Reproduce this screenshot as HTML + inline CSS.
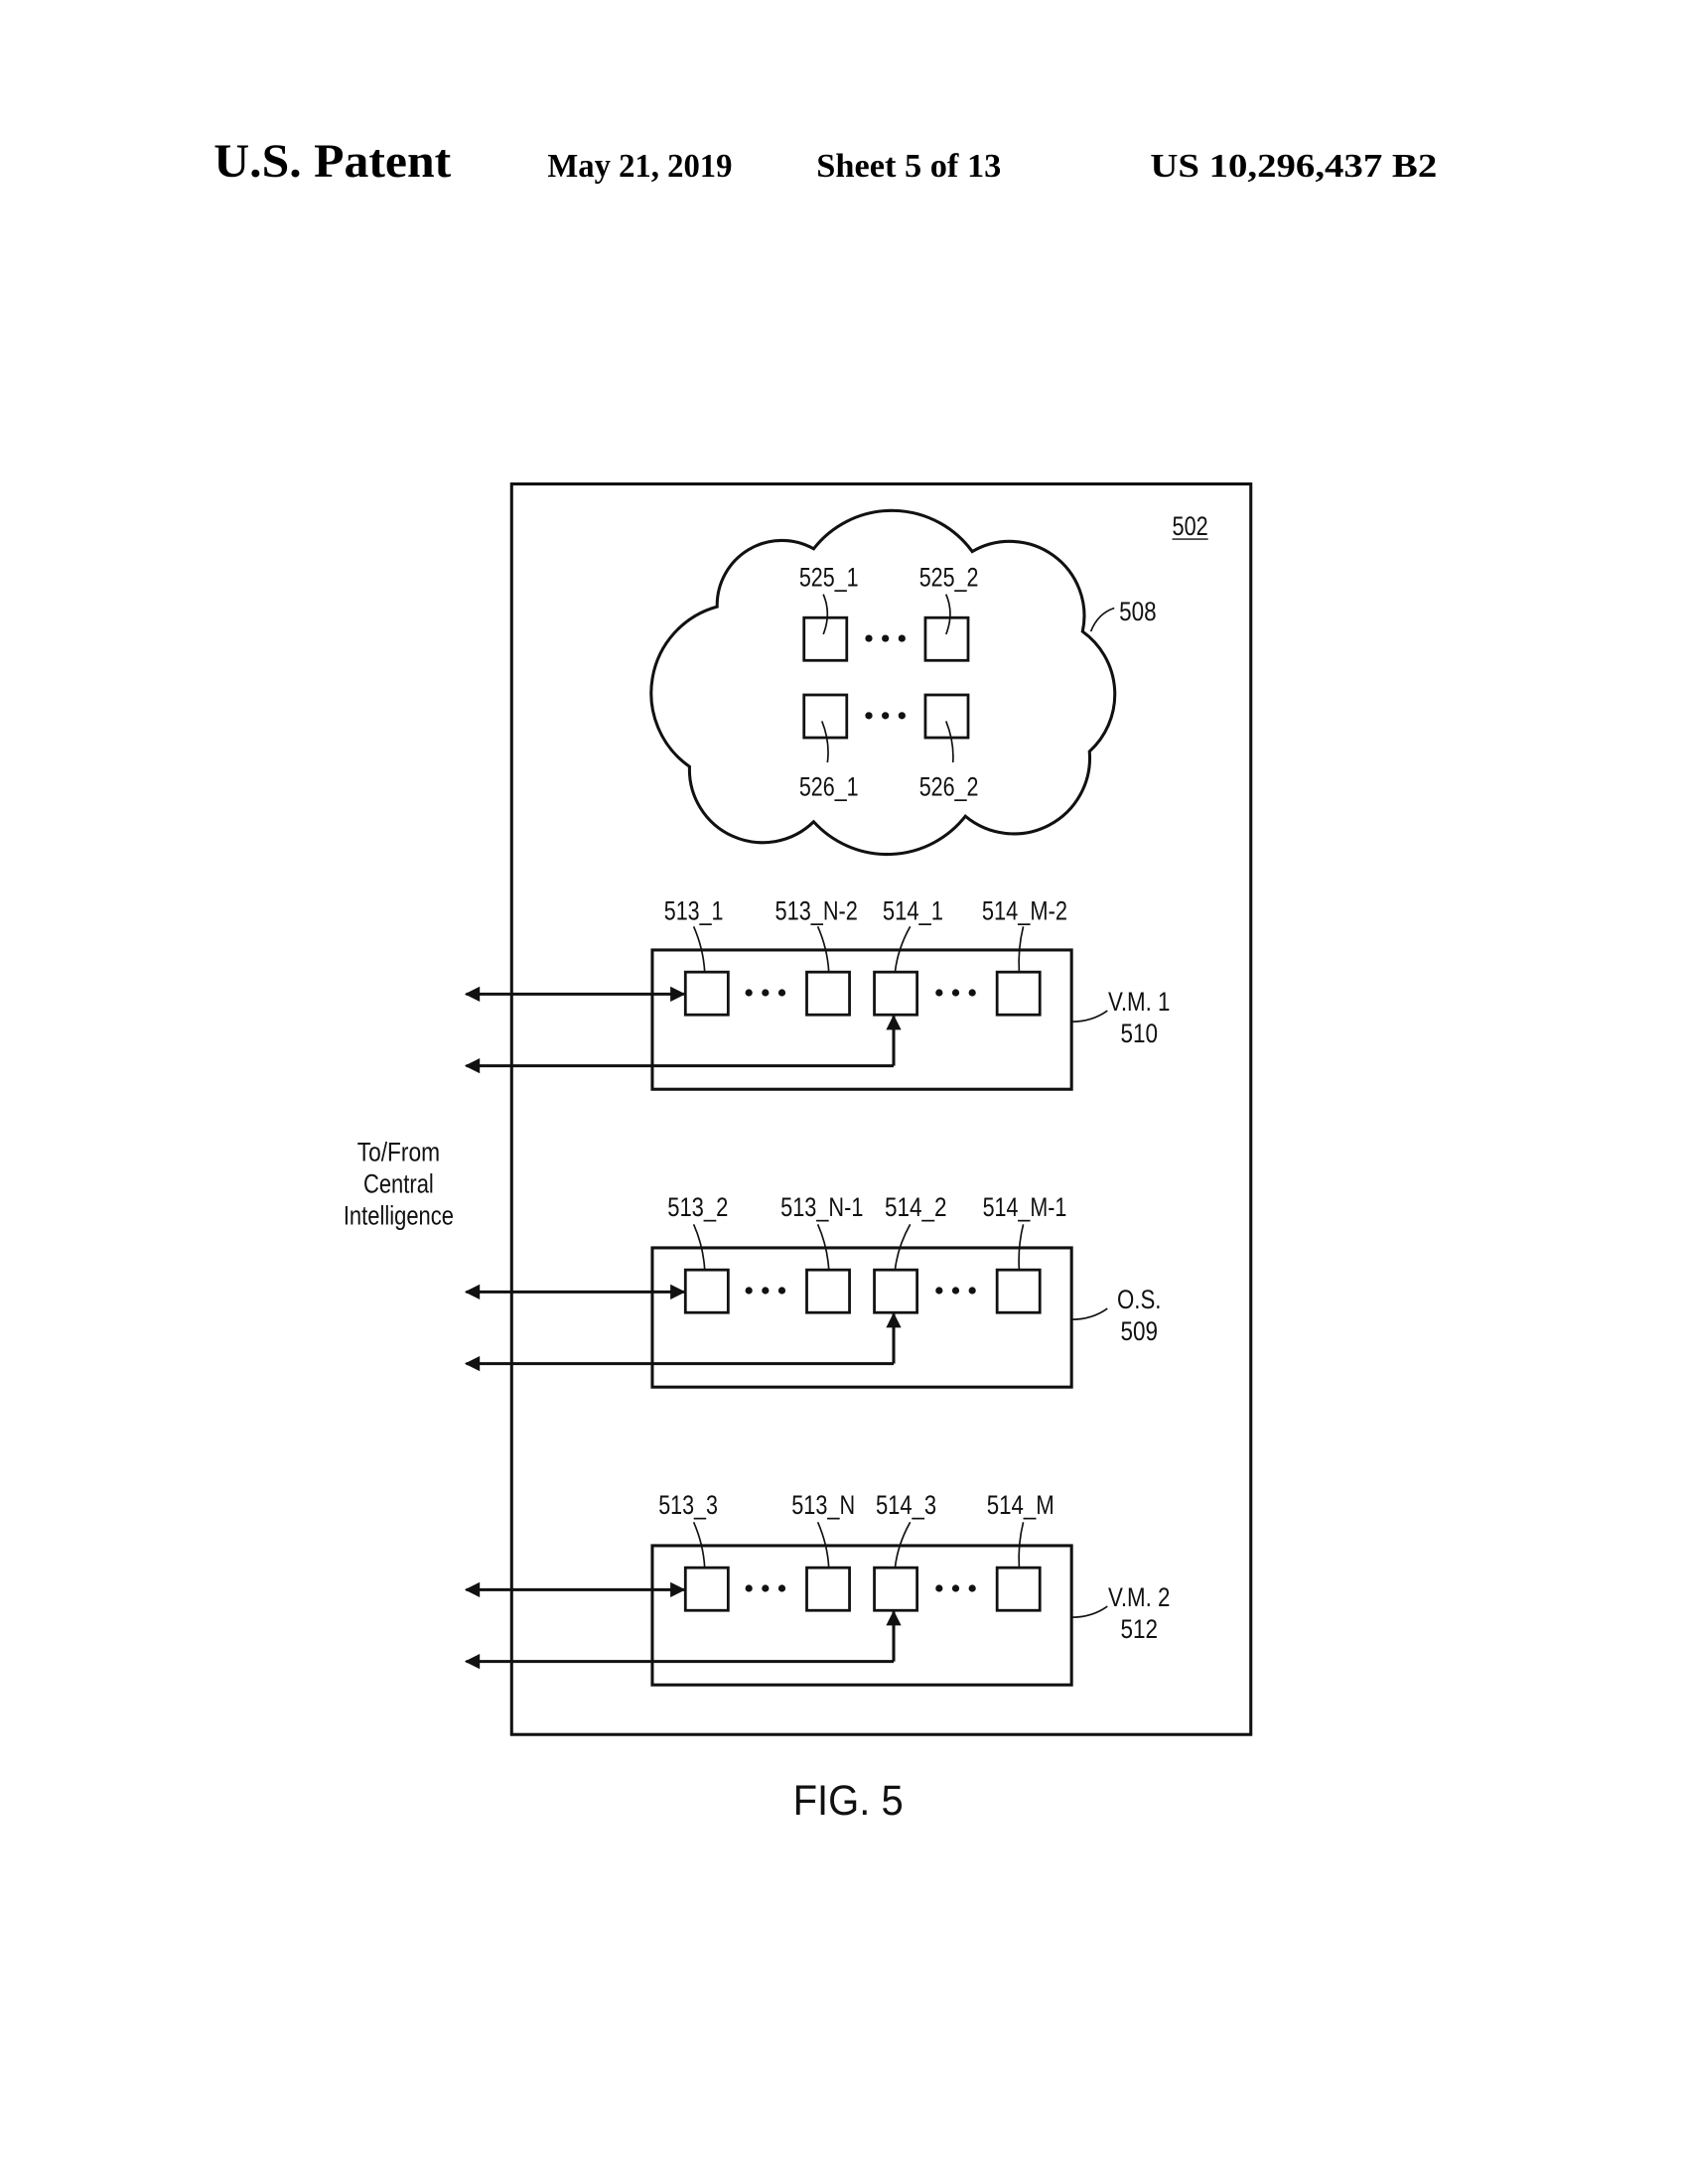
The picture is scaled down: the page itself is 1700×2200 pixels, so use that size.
<!DOCTYPE html>
<html><head><meta charset="utf-8"><style>
html,body{margin:0;padding:0;background:#fff;}
svg{display:block;}
.l{font-family:"Liberation Sans",sans-serif;font-size:19px;fill:#111;}
.h{font-family:"Liberation Serif",serif;font-weight:bold;fill:#000;}
</style></head><body>
<svg width="1700" height="2200" viewBox="0 0 1224 1584" xmlns="http://www.w3.org/2000/svg">
<defs>
<marker id="a" viewBox="0 0 10 10" refX="9" refY="5" markerWidth="13" markerHeight="11" orient="auto-start-reverse" markerUnits="userSpaceOnUse">
<path d="M0,0 L10,5 L0,10 Z" fill="#111"/></marker>
<g id="row">
<rect x="473" y="689" width="304" height="101" fill="none" stroke="#111" stroke-width="2.2"/>
<rect x="497" y="705" width="31" height="31" fill="#fff" stroke="#111" stroke-width="2"/>
<rect x="585" y="705" width="31" height="31" fill="#fff" stroke="#111" stroke-width="2"/>
<rect x="634" y="705" width="31" height="31" fill="#fff" stroke="#111" stroke-width="2"/>
<rect x="723" y="705" width="31" height="31" fill="#fff" stroke="#111" stroke-width="2"/>
<g fill="#111"><circle cx="543" cy="720" r="2.6"/><circle cx="555" cy="720" r="2.6"/><circle cx="567" cy="720" r="2.6"/>
<circle cx="681" cy="720" r="2.6"/><circle cx="693" cy="720" r="2.6"/><circle cx="705" cy="720" r="2.6"/></g>
<g stroke="#111" stroke-width="2.2" fill="none">
<line x1="338" y1="721" x2="496" y2="721" marker-start="url(#a)" marker-end="url(#a)"/>
<polyline points="648,773 338,773" marker-end="url(#a)"/>
<line x1="648" y1="773" x2="648" y2="737" marker-end="url(#a)"/>
</g>
<g stroke="#111" stroke-width="1.2" fill="none">
<path d="M503,672 Q510,688 511,705"/>
<path d="M593,672 Q600,688 601,705"/>
<path d="M660,672 Q651,688 649,705"/>
<path d="M742,672 Q738,688 739,705"/>
<path d="M777,741 Q792,741 803,733"/>
</g>
</g>
</defs>
<text class="h" x="155" y="128" font-size="34" textLength="172" lengthAdjust="spacingAndGlyphs">U.S. Patent</text>
<text class="h" x="397" y="128" font-size="24" textLength="134" lengthAdjust="spacingAndGlyphs">May 21, 2019</text>
<text class="h" x="592" y="128" font-size="24" textLength="134" lengthAdjust="spacingAndGlyphs">Sheet 5 of 13</text>
<text class="h" x="834" y="128" font-size="24" textLength="208" lengthAdjust="spacingAndGlyphs">US 10,296,437 B2</text>

<rect x="371" y="351" width="536" height="907" fill="none" stroke="#111" stroke-width="2.2"/>
<text class="l" x="850" y="388" textLength="26" lengthAdjust="spacingAndGlyphs">502</text>
<line x1="850" y1="391" x2="876" y2="391" stroke="#111" stroke-width="1"/>

<path d="M520,440 A47,47 0 0 1 590,398 A72,72 0 0 1 705,400 A54,54 0 0 1 785,458 A56,56 0 0 1 790,545 A55,55 0 0 1 700,592 A72,72 0 0 1 590,596 A53,53 0 0 1 500,556 A65,65 0 0 1 520,440 Z" fill="none" stroke="#111" stroke-width="2.2"/>
<rect x="583" y="448" width="31" height="31" fill="none" stroke="#111" stroke-width="2"/>
<rect x="671" y="448" width="31" height="31" fill="none" stroke="#111" stroke-width="2"/>
<rect x="583" y="504" width="31" height="31" fill="none" stroke="#111" stroke-width="2"/>
<rect x="671" y="504" width="31" height="31" fill="none" stroke="#111" stroke-width="2"/>
<g fill="#111"><circle cx="630" cy="463" r="2.6"/><circle cx="642" cy="463" r="2.6"/><circle cx="654" cy="463" r="2.6"/>
<circle cx="630" cy="519" r="2.6"/><circle cx="642" cy="519" r="2.6"/><circle cx="654" cy="519" r="2.6"/></g>
<g stroke="#111" stroke-width="1.2" fill="none">
<path d="M597,431 Q603,445 597,460"/>
<path d="M686,431 Q692,445 686,460"/>
<path d="M596,523 Q602,538 600,553"/>
<path d="M686,523 Q692,538 691,553"/>
<path d="M791,458 Q796,445 808,441"/>
</g>
<g class="l" text-anchor="middle" >
<text x="601" y="425" textLength="43" lengthAdjust="spacingAndGlyphs">525_1</text>
<text x="688" y="425" textLength="43" lengthAdjust="spacingAndGlyphs">525_2</text>
<text x="601" y="577" textLength="43" lengthAdjust="spacingAndGlyphs">526_1</text>
<text x="688" y="577" textLength="43" lengthAdjust="spacingAndGlyphs">526_2</text>
<text x="825" y="450" textLength="27" lengthAdjust="spacingAndGlyphs">508</text>
</g>

<use href="#row"/>
<use href="#row" y="216"/>
<use href="#row" y="432"/>

<g class="l" text-anchor="middle">
<text x="503" y="667" textLength="43" lengthAdjust="spacingAndGlyphs">513_1</text>
<text x="592" y="667" textLength="60" lengthAdjust="spacingAndGlyphs">513_N-2</text>
<text x="662" y="667" textLength="44" lengthAdjust="spacingAndGlyphs">514_1</text>
<text x="743" y="667" textLength="62" lengthAdjust="spacingAndGlyphs">514_M-2</text>
<text x="826" y="733" textLength="45" lengthAdjust="spacingAndGlyphs">V.M. 1</text>
<text x="826" y="756" textLength="27" lengthAdjust="spacingAndGlyphs">510</text>
<text x="506" y="882" textLength="44" lengthAdjust="spacingAndGlyphs">513_2</text>
<text x="596" y="882" textLength="60" lengthAdjust="spacingAndGlyphs">513_N-1</text>
<text x="664" y="882" textLength="45" lengthAdjust="spacingAndGlyphs">514_2</text>
<text x="743" y="882" textLength="61" lengthAdjust="spacingAndGlyphs">514_M-1</text>
<text x="826" y="949" textLength="32" lengthAdjust="spacingAndGlyphs">O.S.</text>
<text x="826" y="972" textLength="27" lengthAdjust="spacingAndGlyphs">509</text>
<text x="499" y="1098" textLength="43" lengthAdjust="spacingAndGlyphs">513_3</text>
<text x="597" y="1098" textLength="46" lengthAdjust="spacingAndGlyphs">513_N</text>
<text x="657" y="1098" textLength="44" lengthAdjust="spacingAndGlyphs">514_3</text>
<text x="740" y="1098" textLength="49" lengthAdjust="spacingAndGlyphs">514_M</text>
<text x="826" y="1165" textLength="45" lengthAdjust="spacingAndGlyphs">V.M. 2</text>
<text x="826" y="1188" textLength="27" lengthAdjust="spacingAndGlyphs">512</text>
<text x="289" y="842" textLength="60" lengthAdjust="spacingAndGlyphs">To/From</text>
<text x="289" y="865" textLength="51" lengthAdjust="spacingAndGlyphs">Central</text>
<text x="289" y="888" textLength="80" lengthAdjust="spacingAndGlyphs">Intelligence</text>
<text x="615" y="1316" font-size="31" textLength="80" lengthAdjust="spacingAndGlyphs">FIG. 5</text>
</g>
</svg>
</body></html>
